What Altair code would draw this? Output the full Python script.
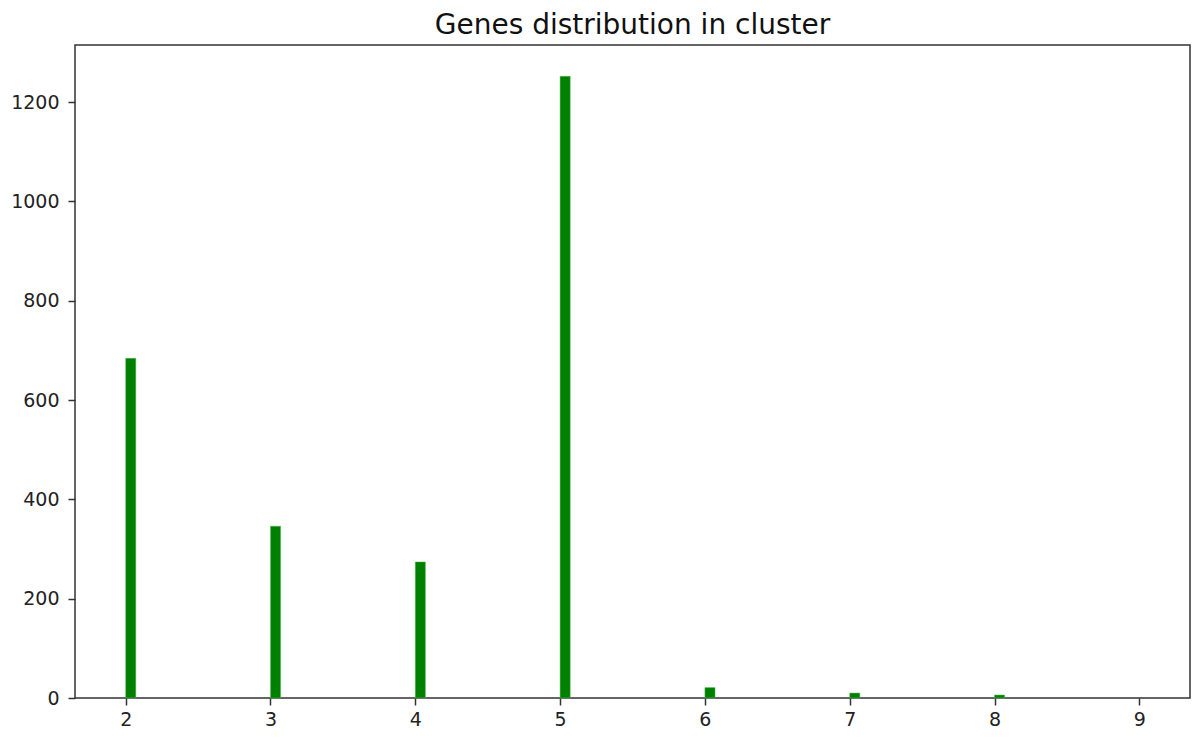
import altair as alt
import pandas as pd

clusters = [2, 3, 4, 5, 6, 7, 8]
counts = [684, 346, 274, 1252, 21, 10, 6]
bin_width = 0.07

df = pd.DataFrame({"x": clusters, "y": counts})
df["x2"] = df["x"] + bin_width

axis_style = dict(title=None, grid=False, domain=False, tickColor="#333", tickSize=7, tickWidth=1.5,
                  labelFontSize=19, labelColor="#222", labelFont="DejaVu Sans", format="d")

chart = alt.Chart(df).mark_rect(color="#008000", stroke="#5cb85c", strokeWidth=0.5).encode(
    x=alt.X("x:Q", scale=alt.Scale(domain=[1.65, 9.35], nice=False, zero=False),
            axis=alt.Axis(values=[2, 3, 4, 5, 6, 7, 8, 9], labelPadding=5, **axis_style)),
    x2="x2:Q",
    y=alt.Y("y:Q", scale=alt.Scale(domain=[0, 1315], nice=False),
            axis=alt.Axis(values=[0, 200, 400, 600, 800, 1000, 1200], labelPadding=9, **axis_style)),
    y2=alt.datum(0),
).properties(
    width=1115, height=653,
    title=alt.TitleParams("Genes distribution in cluster", fontSize=28, fontWeight="normal",
                          font="DejaVu Sans", color="#111", offset=5),
    autosize=alt.AutoSizeParams(type="none"),
    padding={"left": 67, "top": 37, "right": 6, "bottom": 38},
).configure_view(stroke="#333", strokeWidth=1.5)

chart.save("out.html", embed_options={"renderer": "svg", "actions": False})
